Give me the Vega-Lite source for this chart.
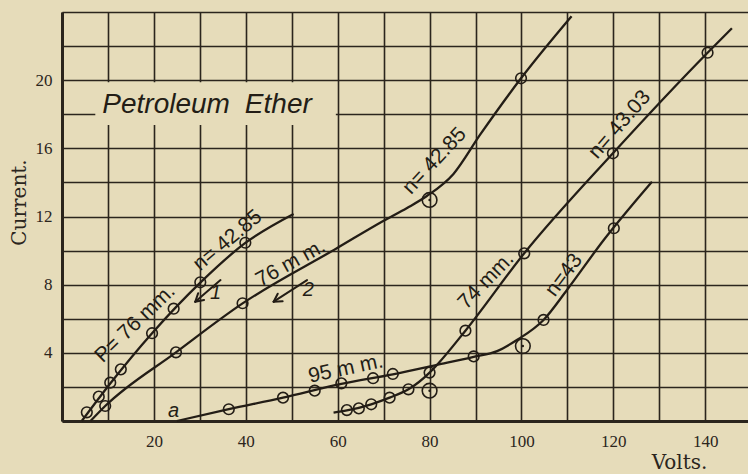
{
  "$schema": "https://vega.github.io/schema/vega-lite/v6.json",
  "width": 686,
  "height": 409,
  "autosize": "none",
  "padding": {"left": 62, "top": 12, "right": 0, "bottom": 53},
  "background": "#e6dcba",
  "config": {
    "view": {"stroke": null},
    "axis": {
      "grid": true,
      "gridColor": "#2b251d",
      "gridWidth": 1.6,
      "gridOpacity": 1,
      "domain": true,
      "domainColor": "#2b251d",
      "domainWidth": 3,
      "ticks": false,
      "tickSize": 0,
      "labelFont": "Liberation Serif",
      "labelFontSize": 17,
      "labelColor": "#2b251d",
      "labelOverlap": false,
      "labelFlush": false,
      "titleFont": "DejaVu Serif",
      "titleFontSize": 20,
      "titleFontWeight": "normal",
      "titleColor": "#2b251d"
    }
  },
  "datasets": {
    "curves": [
      {"curve": "A", "v": 4.3, "c": 0},
      {"curve": "A", "v": 10.5, "c": 2.2},
      {"curve": "A", "v": 19.6, "c": 5.15},
      {"curve": "A", "v": 30.1, "c": 8.12},
      {"curve": "A", "v": 39.9, "c": 10.45},
      {"curve": "A", "v": 50.4, "c": 12.15},
      {"curve": "B", "v": 6.2, "c": 0},
      {"curve": "B", "v": 9.4, "c": 0.88},
      {"curve": "B", "v": 24.8, "c": 4.03},
      {"curve": "B", "v": 39.3, "c": 6.9},
      {"curve": "B", "v": 59.9, "c": 10.15},
      {"curve": "B", "v": 70.0, "c": 11.75},
      {"curve": "B", "v": 75.1, "c": 12.5},
      {"curve": "B", "v": 79.4, "c": 13.2},
      {"curve": "B", "v": 85.2, "c": 14.5},
      {"curve": "B", "v": 91.0, "c": 16.8},
      {"curve": "B", "v": 99.9, "c": 20.11},
      {"curve": "B", "v": 110.9, "c": 23.75},
      {"curve": "C", "v": 25.0, "c": 0},
      {"curve": "C", "v": 36.3, "c": 0.69},
      {"curve": "C", "v": 48.1, "c": 1.37},
      {"curve": "C", "v": 60.8, "c": 2.18},
      {"curve": "C", "v": 72.0, "c": 2.74},
      {"curve": "C", "v": 81.6, "c": 3.29},
      {"curve": "C", "v": 89.6, "c": 3.76},
      {"curve": "C", "v": 94.7, "c": 4.1},
      {"curve": "C", "v": 99.0, "c": 4.75},
      {"curve": "C", "v": 104.8, "c": 5.93},
      {"curve": "C", "v": 109.9, "c": 7.69},
      {"curve": "C", "v": 117.9, "c": 10.62},
      {"curve": "C", "v": 128.4, "c": 14.04},
      {"curve": "D", "v": 59.1, "c": 0.49},
      {"curve": "D", "v": 62.0, "c": 0.62},
      {"curve": "D", "v": 67.3, "c": 0.98},
      {"curve": "D", "v": 71.3, "c": 1.37},
      {"curve": "D", "v": 75.4, "c": 1.86},
      {"curve": "D", "v": 80.0, "c": 2.84},
      {"curve": "D", "v": 81.6, "c": 3.29},
      {"curve": "D", "v": 87.8, "c": 5.3},
      {"curve": "D", "v": 100.6, "c": 9.84},
      {"curve": "D", "v": 119.9, "c": 15.71},
      {"curve": "D", "v": 140.5, "c": 21.61},
      {"curve": "D", "v": 145.8, "c": 23.05}
    ],
    "readings": [
      {"curve": "A", "v": 5.4, "c": 0.51, "kind": "plain"},
      {"curve": "A", "v": 8.0, "c": 1.43, "kind": "plain"},
      {"curve": "A", "v": 10.5, "c": 2.25, "kind": "plain"},
      {"curve": "A", "v": 12.8, "c": 3.03, "kind": "plain"},
      {"curve": "A", "v": 19.6, "c": 5.15, "kind": "plain"},
      {"curve": "A", "v": 24.3, "c": 6.59, "kind": "plain"},
      {"curve": "A", "v": 30.1, "c": 8.14, "kind": "plain"},
      {"curve": "A", "v": 39.9, "c": 10.46, "kind": "plain"},
      {"curve": "B", "v": 9.4, "c": 0.88, "kind": "plain"},
      {"curve": "B", "v": 24.8, "c": 4.03, "kind": "plain"},
      {"curve": "B", "v": 39.3, "c": 6.91, "kind": "plain"},
      {"curve": "B", "v": 80.0, "c": 12.97, "kind": "marked"},
      {"curve": "B", "v": 99.9, "c": 20.11, "kind": "plain"},
      {"curve": "C", "v": 36.3, "c": 0.69, "kind": "plain"},
      {"curve": "C", "v": 48.1, "c": 1.37, "kind": "plain"},
      {"curve": "C", "v": 55.0, "c": 1.78, "kind": "plain"},
      {"curve": "C", "v": 60.8, "c": 2.21, "kind": "plain"},
      {"curve": "C", "v": 67.7, "c": 2.51, "kind": "plain"},
      {"curve": "C", "v": 72.0, "c": 2.76, "kind": "plain"},
      {"curve": "C", "v": 89.6, "c": 3.79, "kind": "plain"},
      {"curve": "C", "v": 100.3, "c": 4.4, "kind": "marked"},
      {"curve": "C", "v": 104.8, "c": 5.93, "kind": "plain"},
      {"curve": "C", "v": 120.1, "c": 11.31, "kind": "plain"},
      {"curve": "D", "v": 62.0, "c": 0.64, "kind": "plain"},
      {"curve": "D", "v": 64.6, "c": 0.74, "kind": "plain"},
      {"curve": "D", "v": 67.3, "c": 0.98, "kind": "plain"},
      {"curve": "D", "v": 71.3, "c": 1.37, "kind": "plain"},
      {"curve": "D", "v": 75.4, "c": 1.86, "kind": "plain"},
      {"curve": "D", "v": 80.0, "c": 2.84, "kind": "plain"},
      {"curve": "D", "v": 80.0, "c": 1.78, "kind": "marked"},
      {"curve": "D", "v": 87.8, "c": 5.3, "kind": "plain"},
      {"curve": "D", "v": 100.6, "c": 9.84, "kind": "plain"},
      {"curve": "D", "v": 119.9, "c": 15.71, "kind": "plain"},
      {"curve": "D", "v": 140.5, "c": 21.61, "kind": "plain"}
    ],
    "arrows": [
      {"arrow": "1", "v": 34.5, "c": 8.27, "v2": 29.0, "c2": 7.0},
      {"arrow": "1", "v": 30.92, "c": 7.1, "v2": 29.0, "c2": 7.0},
      {"arrow": "1", "v": 29.64, "c": 7.5, "v2": 29.0, "c2": 7.0},
      {"arrow": "2", "v": 53.33, "c": 8.27, "v2": 46.06, "c2": 7.0},
      {"arrow": "2", "v": 48.02, "c": 7.03, "v2": 46.06, "c2": 7.0},
      {"arrow": "2", "v": 46.95, "c": 7.47, "v2": 46.06, "c2": 7.0}
    ],
    "curveNotes": [
      {"text": "P= 76 mm.", "v": 15.95, "c": 5.71, "angle": -44},
      {"text": "n= 42.85", "v": 36.08, "c": 10.59, "angle": -40},
      {"text": "76 m m.", "v": 49.78, "c": 9.25, "angle": -29},
      {"text": "n= 42.85", "v": 81.12, "c": 15.26, "angle": -47},
      {"text": "n= 43.03", "v": 121.41, "c": 17.39, "angle": -49},
      {"text": "74 mm.", "v": 92.33, "c": 8.22, "angle": -46},
      {"text": "n=43", "v": 109.28, "c": 8.56, "angle": -53},
      {"text": "95 m m.", "v": 61.76, "c": 3.05, "angle": -12}
    ],
    "smallNotes": [
      {"text": "a", "v": 24.3, "c": 0.59},
      {"text": "1", "v": 33.4, "c": 7.54},
      {"text": "2", "v": 53.6, "c": 7.69}
    ],
    "heading": [
      {"text": "Petroleum", "v": 8.77, "c": 18.07},
      {"text": "Ether", "v": 39.8, "c": 18.07}
    ],
    "headingClear": [
      {"v": 7.25, "v2": 59.6, "c": 17.37, "c2": 19.88}
    ]
  },
  "encoding": {
    "x": {
      "field": "v",
      "type": "quantitative",
      "scale": {"domain": [0, 149.3], "nice": false, "zero": false},
      "axis": {
        "values": [0, 10, 20, 30, 40, 50, 60, 70, 80, 90, 100, 110, 120, 130, 140],
        "labelExpr": "datum.value >= 20 && datum.value % 20 == 0 ? datum.label : ''",
        "labelPadding": 12,
        "labelDx": 3,
        "title": "Volts.",
        "titleX": 617,
        "titleY": 47,
        "titleAlign": "center",
        "titleBaseline": "alphabetic"
      }
    },
    "y": {
      "field": "c",
      "type": "quantitative",
      "scale": {"domain": [0, 24], "nice": false, "zero": false},
      "axis": {
        "values": [0, 2, 4, 6, 8, 10, 12, 14, 16, 18, 20, 22, 24],
        "labelExpr": "datum.value > 0 && datum.value < 24 && datum.value % 4 == 0 ? datum.label : ''",
        "labelPadding": 10,
        "title": "Current.",
        "titleX": -37,
        "titleY": 190,
        "titleAngle": 270,
        "titleAlign": "center",
        "titleBaseline": "alphabetic"
      }
    }
  },
  "layer": [
    {
      "data": {"name": "headingClear"},
      "mark": {"type": "rect", "color": "#e6dcba"},
      "encoding": {
        "x2": {"field": "v2"},
        "y2": {"field": "c2"}
      }
    },
    {
      "data": {"name": "curves"},
      "mark": {"type": "line", "interpolate": "monotone", "color": "#231d16", "strokeWidth": 2.3},
      "encoding": {
        "detail": {"field": "curve"}
      }
    },
    {
      "data": {"name": "readings"},
      "transform": [{"filter": "datum.kind == 'plain'"}],
      "mark": {"type": "point", "shape": "circle", "filled": false, "size": 113, "color": "#231d16", "strokeWidth": 1.6, "opacity": 1}
    },
    {
      "data": {"name": "readings"},
      "transform": [{"filter": "datum.kind == 'marked'"}],
      "mark": {"type": "point", "shape": "circle", "filled": false, "size": 215, "color": "#231d16", "strokeWidth": 1.6, "opacity": 1}
    },
    {
      "data": {"name": "readings"},
      "transform": [{"filter": "datum.kind == 'marked'"}],
      "mark": {"type": "point", "shape": "circle", "filled": true, "size": 6, "color": "#231d16", "opacity": 1}
    },
    {
      "data": {"name": "arrows"},
      "mark": {"type": "rule", "color": "#231d16", "strokeWidth": 2, "strokeCap": "round"},
      "encoding": {
        "x2": {"field": "v2"},
        "y2": {"field": "c2"}
      }
    },
    {
      "data": {"name": "curveNotes"},
      "mark": {"type": "text", "font": "Liberation Sans", "fontSize": 21, "color": "#231d16", "align": "center", "baseline": "middle"},
      "encoding": {
        "text": {"field": "text"},
        "angle": {"field": "angle", "type": "quantitative", "scale": null}
      }
    },
    {
      "data": {"name": "smallNotes"},
      "mark": {"type": "text", "font": "Liberation Sans", "fontStyle": "italic", "fontSize": 20, "color": "#231d16", "align": "center", "baseline": "middle"},
      "encoding": {
        "text": {"field": "text"}
      }
    },
    {
      "data": {"name": "heading"},
      "mark": {"type": "text", "font": "Liberation Sans", "fontStyle": "italic", "fontSize": 28, "color": "#231d16", "align": "left", "baseline": "alphabetic"},
      "encoding": {
        "text": {"field": "text"}
      }
    }
  ]
}
